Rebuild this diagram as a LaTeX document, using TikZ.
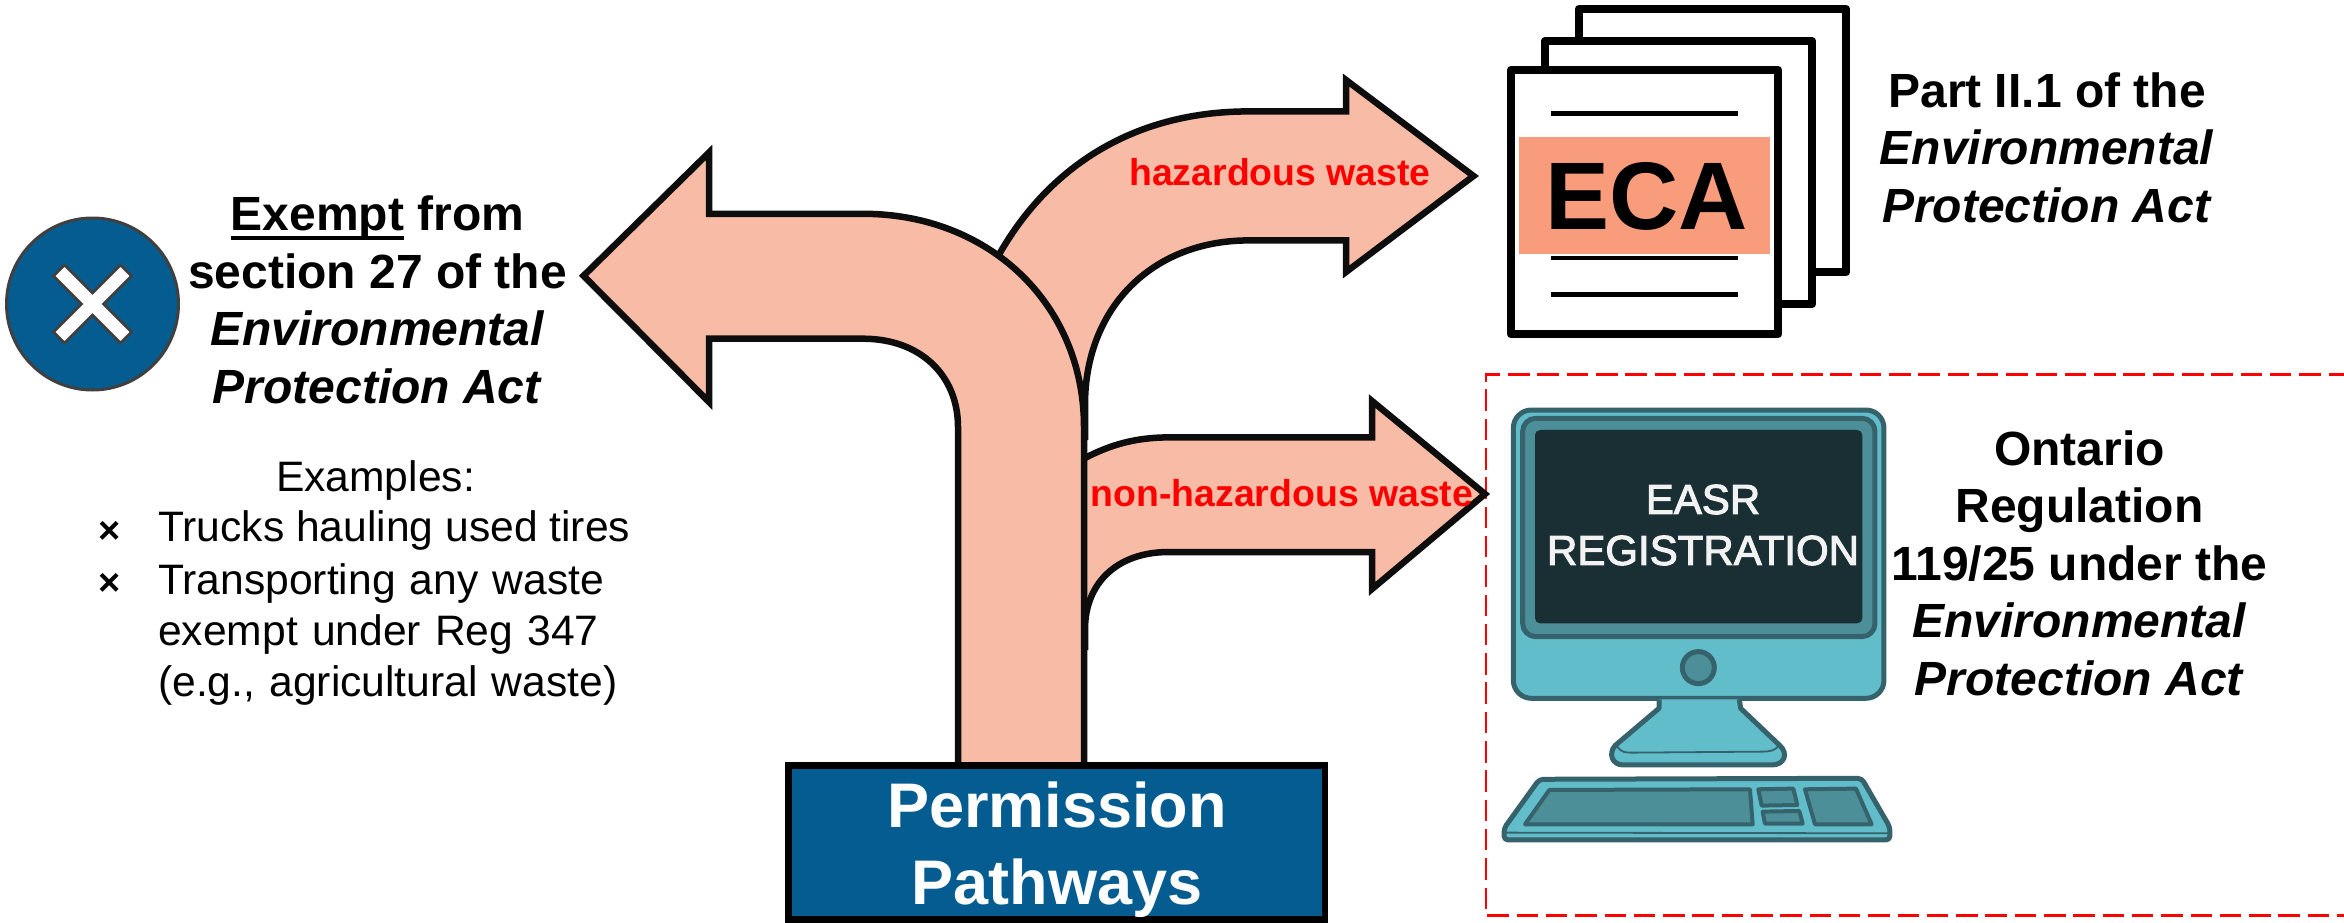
\documentclass[tikz,border=0pt]{standalone}
\usepackage{fontspec}
\setmainfont{Liberation Sans}
\newfontfamily\easrfont[FakeBold=2.5]{Liberation Sans}
\definecolor{salmon}{HTML}{F8BBA6}
\definecolor{ecaorange}{HTML}{F89C7B}
\definecolor{navy}{HTML}{045C91}
\definecolor{monfill}{HTML}{62BDCB}
\definecolor{monline}{HTML}{36626B}
\definecolor{monmid}{HTML}{4C8F99}
\definecolor{monscreen}{HTML}{1A2F33}
\definecolor{nearwhite}{HTML}{F2F2F2}
\newcommand\myul[1]{\leavevmode\setbox0\hbox{#1}\rlap{\rule[-9pt]{\wd0}{4pt}}\box0\relax}
\tikzset{
  arrowedge/.style={draw=black!95,line width=6.5pt},
  page/.style={draw=black,fill=white,line width=8.5pt,line join=round},
  pageline/.style={draw=black,line width=4.7pt},
  heading/.style={font=\bfseries\fontsize{48}{57.5}\selectfont,align=center,inner sep=0pt,text=black},
  body/.style={font=\fontsize{42.6}{51}\selectfont,align=left,inner sep=0pt,anchor=base west,text=black},
  wastelabel/.style={font=\bfseries\fontsize{37.4}{44}\selectfont,text=red,inner sep=0pt},
  mon/.style={draw=monline,line width=5pt,line join=round},
}
\begin{document}
\begin{tikzpicture}[x=1pt,y=-1pt]
\useasboundingbox (0,0) rectangle (2344,923);
% dashed frame
\draw[red,line width=2.8pt,dash pattern=on 21.5pt off 7.8pt] (2350,374.4) -- (1486,374.4) -- (1486,915.5) -- (2350,915.5);
% upper right arrow
\fill[salmon] (1085,440) -- (1085,404.4) .. controls (1085,310) and (1150,240.4) .. (1249,240.4) -- (1346,240.4) -- (1346,272) -- (1473.5,176) -- (1346,80) -- (1346,111.4) -- (1249,111.4) .. controls (1130,111.4) and (1045,170) .. (996,260) -- (1000,300) -- cycle;
\draw[arrowedge] (1085,440) -- (1085,404.4) .. controls (1085,310) and (1150,240.4) .. (1249,240.4) -- (1346,240.4) -- (1346,272) -- (1473.5,176) -- (1346,80) -- (1346,111.4) -- (1249,111.4) .. controls (1130,111.4) and (1045,170) .. (996,260);
% lower right arrow
\fill[salmon] (1085,650) -- (1085,629) .. controls (1085,585) and (1115,552) .. (1169,552) -- (1372,552) -- (1372,589) -- (1485,494) -- (1372,401) -- (1372,437.4) -- (1169,437.4) .. controls (1135,437.4) and (1110,445) .. (1085,458) -- cycle;
\draw[arrowedge] (1085,650) -- (1085,629) .. controls (1085,585) and (1115,552) .. (1169,552) -- (1372,552) -- (1372,589) -- (1485,494) -- (1372,401) -- (1372,437.4) -- (1169,437.4) .. controls (1135,437.4) and (1110,445) .. (1085,458);
% main left arrow
\fill[salmon] (958,765) -- (958,427) .. controls (958,375) and (920,338.7) .. (863,338.7) -- (709,338.7) -- (709,402) -- (583.5,275.8) -- (709,152.5) -- (709,213.8) -- (863,213.8) .. controls (990,213.8) and (1084,305) .. (1084,427) -- (1084,765) -- cycle;
\draw[arrowedge] (958,765) -- (958,427) .. controls (958,375) and (920,338.7) .. (863,338.7) -- (709,338.7) -- (709,402) -- (583.5,275.8) -- (709,152.5) -- (709,213.8) -- (863,213.8) .. controls (990,213.8) and (1084,305) .. (1084,427) -- (1084,765);
% permission box
\node[draw=black,fill=navy,line width=6.8pt,outer sep=0pt,minimum width=536.7pt,minimum height=154pt,inner sep=0pt] (perm) at (1056.6,842.5) {};
\node[font=\bfseries\fontsize{63}{76.7}\selectfont,text=white,align=center,inner sep=0pt] (permtext) at (1057,850) {Permission\\Pathways};
% labels
\node[wastelabel] (haz) at (1280,172.5) {hazardous waste};
\node[wastelabel] (nonhaz) at (1282,493) {non-hazardous waste};
% exempt
\node[draw=black!75,line width=3pt,fill=navy,circle,minimum size=172pt,inner sep=0pt] (nocircle) at (92.5,304) {};
\draw[draw=black!75,line width=2.5pt,fill=white,line join=miter] (92.5,304) ++(-39,-28) -- ++(11,-11) -- ++(28,28) -- ++(28,-28) -- ++(11,11) -- ++(-28,28) -- ++(28,28) -- ++(-11,11) -- ++(-28,-28) -- ++(-28,28) -- ++(-11,-11) -- ++(28,-28) -- cycle;
\node[heading] (exempt) at (377.5,300) {\myul{Exempt} from\\section 27 of the\\\textit{Environmental}\\\textit{Protection Act}};
\node[font=\fontsize{42.6}{50}\selectfont,inner sep=0pt,anchor=base] (ex) at (375.5,491.6) {Examples:};
\node[body] (b1) at (158,541.6) {Trucks hauling used tires};
\node[body,text width=480pt] (b2) at (158,594) {Transporting any waste\\exempt under Reg 347\\(e.g., agricultural waste)};
\node[font=\bfseries\fontsize{38}{44}\selectfont,inner sep=0pt] (m1) at (110,532) {×};
\node[font=\bfseries\fontsize{38}{44}\selectfont,inner sep=0pt] (m2) at (110,584) {×};
% ECA pages
\draw[page] (1579,9) rectangle (1846,272);
\draw[page] (1545,41) rectangle (1812,304);
\draw[page] (1511,70) rectangle (1778,334);
\draw[pageline] (1550.7,113.3) -- (1738,113.3);
\draw[pageline] (1550.7,258) -- (1738,258);
\draw[pageline] (1550.7,294.7) -- (1738,294.7);
\node[fill=ecaorange,minimum width=251pt,minimum height=117pt,inner sep=0pt] (ecabar) at (1644.5,195.5) {};
\node[font=\bfseries\fontsize{96}{110}\selectfont,inner sep=0pt] (eca) at (1646.7,196) {ECA};
\node[heading] (part) at (2047,147.5) {Part II.1 of the\\\textit{Environmental}\\\textit{Protection Act}};
% monitor
\begin{scope}[shift={(1460,380)},x=0.3333pt,y=-0.3333pt]
\draw[mon,fill=monfill,rounded corners=18pt] (160,90) rectangle (1272,955);
\draw[mon,fill=monmid,rounded corners=13pt] (188,115) rectangle (1245,770);
\draw[fill=monscreen,draw=none,rounded corners=5pt] (225,150) rectangle (1207,730);
\draw[mon,fill=monmid] (715,863) circle (16pt);
\draw[mon,fill=monfill] (597,958) -- (597,985) -- (465,1097) .. controls (445,1120) and (455,1155) .. (490,1155) -- (935,1155) .. controls (975,1155) and (985,1120) .. (960,1097) -- (842,985) -- (838,958);
\draw[draw=monline,line width=1.8pt] (472,1100) .. controls (485,1118) and (495,1118) .. (520,1118) -- (905,1115) .. controls (930,1115) and (945,1112) .. (955,1098);
\draw[mon,fill=monfill,rounded corners=4pt] (238,1198) -- (1205,1195) -- (1290,1342) -- (1290,1380) -- (132,1380) -- (132,1345) -- cycle;
\draw[draw=monline,line width=1.8pt] (135,1358) -- (1288,1360);
\draw[draw=monline,line width=4pt,fill=monmid,line join=round] (268,1230) -- (870,1228) -- (878,1333) -- (195,1333) -- cycle;
\draw[draw=monline,line width=4pt,fill=monmid,line join=round] (895,1228) -- (1000,1226) -- (1012,1275) -- (905,1277) -- cycle;
\draw[draw=monline,line width=4pt,fill=monmid,line join=round] (908,1295) -- (1018,1293) -- (1028,1331) -- (915,1331) -- cycle;
\draw[draw=monline,line width=4pt,fill=monmid,line join=round] (1035,1228) -- (1188,1226) -- (1235,1333) -- (1065,1333) -- cycle;
\end{scope}
\node[font=\easrfont\fontsize{42}{51}\selectfont,text=nearwhite,align=center,inner sep=0pt] (easr) at (1703,525) {EASR\\REGISTRATION};
\node[heading] (ont) at (2079.5,563) {Ontario\\Regulation\\119/25 under the\\\textit{Environmental}\\\textit{Protection Act}};
\end{tikzpicture}
\end{document}
